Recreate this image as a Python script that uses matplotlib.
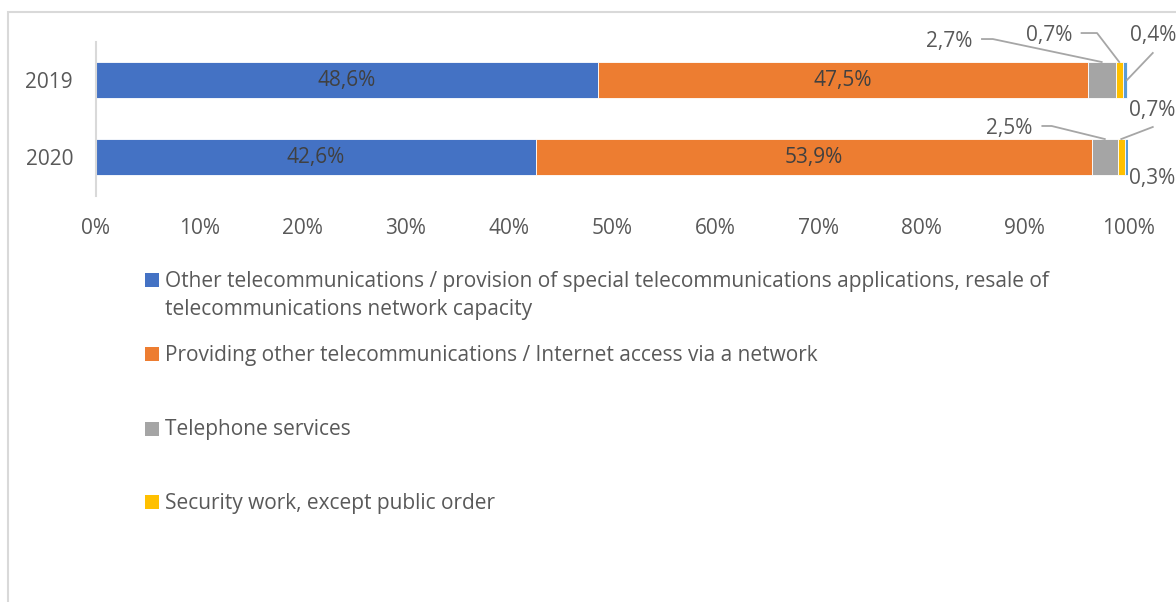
import matplotlib.pyplot as plt
from matplotlib.patches import Rectangle
import numpy as np

plt.rcParams['font.family'] = ['Open Sans', 'DejaVu Sans']

# data
years = ['2019', '2020']
other_telecom = [48.6, 42.6]
internet_access = [47.5, 53.9]
telephone = [2.7, 2.5]
security = [0.7, 0.7]
unlabelled = [0.4, 0.3]

series_names = [
    'Other telecommunications / provision of special telecommunications applications, resale of\ntelecommunications network capacity',
    'Providing other telecommunications / Internet access via a network',
    'Telephone services',
    'Security work, except public order',
]
colors = ['#4472C4', '#ED7D31', '#A5A5A5', '#FFC000', '#5B9BD5']
text_dark = '#404040'
text_grey = '#595959'
line_grey = '#A6A6A6'
fs = 15

W, H = 1176, 602
fig = plt.figure(figsize=(W / 100, H / 100), dpi=100, facecolor='white')


def fx(px):
    return px / W


def fy(py):
    return 1 - py / H


# outer chart frame (cropped on right/bottom)
fig.patches.append(Rectangle((fx(8), fy(700)), 2, fy(12) - fy(700),
                             transform=fig.transFigure, fill=False,
                             edgecolor='#D9D9D9', linewidth=1.5))

ax = fig.add_axes([fx(96), fy(196), fx(1128) - fx(96), fy(42) - fy(196)])

values = [other_telecom, internet_access, telephone, security, unlabelled]
ypos = np.arange(len(years))
bar_h = 0.4675
left = np.zeros(len(years))
edges = []
for vals, c in zip(values, colors):
    vals = np.array(vals)
    ax.barh(ypos, vals, left=left, height=bar_h, color=c, edgecolor='white', linewidth=0.6)
    edges.append((left.copy(), left + vals))
    left = left + vals


def pct(v):
    return f'{v:.1f}'.replace('.', ',') + '%'


# labels inside the two big segments
for s in range(2):
    lo, hi = edges[s]
    for i in range(len(years)):
        ax.text((lo[i] + hi[i]) / 2, ypos[i], pct(values[s][i]),
                ha='center', va='center', fontsize=fs, color=text_dark)

# small segment labels with leader lines (positions are layout)
# (series, year, text x, text y, ha, leader path, end at side)
small_labels = [
    (2, 0, 84.9, -0.494, 'right', [(85.85, -0.532), (86.9, -0.532)], False),
    (3, 0, 90.1, -0.584, 'left', [(95.5, -0.61), (97.0, -0.61)], False),
    (4, 0, 100.2, -0.584, 'left', [(102.4, -0.351)], True),
    (2, 1, 86.2, 0.636, 'left', [(91.7, 0.597), (92.6, 0.597)], False),
    (3, 1, 100.1, 0.39, 'left', [(102.4, 0.61)], False),
    (4, 1, 100.1, 1.273, 'left', [], False),
]
for s, i, tx, ty, ha, path, side in small_labels:
    ax.text(tx, ty, pct(values[s][i]), ha=ha, va='center',
            fontsize=fs, color=text_grey, clip_on=False)
    if path:
        lo, hi = edges[s]
        if side:
            end = (hi[i], ypos[i])
        else:
            end = ((lo[i] + hi[i]) / 2, ypos[i] - bar_h / 2)
        xs = [p[0] for p in path] + [end[0]]
        ys = [p[1] for p in path] + [end[1]]
        ax.plot(xs, ys, color=line_grey, linewidth=1.3, clip_on=False)

ax.set_xlim(0, 100)
ax.set_ylim(1.506, -0.4935)
ax.set_xticks(np.arange(0, 101, 10))
ax.set_xticklabels([f'{t}%' for t in range(0, 101, 10)])
ax.set_yticks(ypos)
ax.set_yticklabels(years)
ax.tick_params(axis='both', length=0, labelsize=fs, colors=text_grey)
ax.tick_params(axis='x', pad=16)
ax.tick_params(axis='y', pad=16.5)
for side in ['top', 'right', 'bottom']:
    ax.spines[side].set_visible(False)
ax.spines['left'].set_color('#D9D9D9')
ax.spines['left'].set_linewidth(1.5)
ax.set_facecolor('none')

# legend drawn by hand to match the spaced layout
legend_rows = [280, 354, 429, 502]
for name, c, row in zip(series_names, colors, legend_rows):
    fig.patches.append(Rectangle((fx(145), fy(row + 7)), fx(14), 14 / H,
                                 transform=fig.transFigure, facecolor=c, edgecolor='none'))
    fig.text(fx(165), fy(row - 9.5), name, ha='left', va='top', fontsize=fs,
             color=text_grey, linespacing=1.5)

fig.savefig('out.png', dpi=100, facecolor='white')
